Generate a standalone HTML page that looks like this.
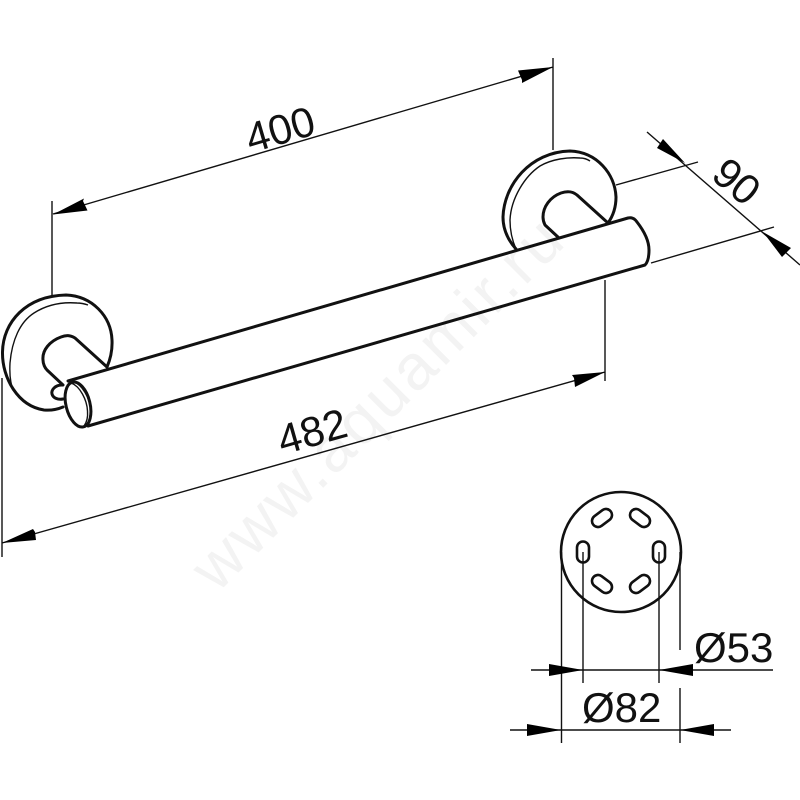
<!DOCTYPE html>
<html>
<head>
<meta charset="utf-8">
<style>
html,body{margin:0;padding:0;background:#fff}
svg{display:block}
text{font-family:"Liberation Sans",sans-serif;fill:#111}
.t{fill:none;stroke:#111;stroke-width:1.4}
.m{fill:none;stroke:#111;stroke-width:3;stroke-linecap:round;stroke-linejoin:round}
.h{fill:#000;stroke:none}
</style>
</head>
<body>
<svg width="800" height="800" viewBox="0 0 800 800" xmlns="http://www.w3.org/2000/svg">
<text x="0" y="0" font-size="64" text-anchor="middle" transform="translate(393,418) rotate(-45)" style="fill:#f3f3f3;letter-spacing:3px">www.aquamir.ru</text>

<!-- 400 dimension -->
<path class="t" d="M52 201V296M553 58V150M53 214L553 67"/>
<polygon class="h" points="53,214.500 84,198.500 83,201 87.500,210.500"/>
<polygon class="h" points="553,67 522,83 522,80 518,70.500"/>
<text font-size="42" text-anchor="middle" transform="translate(280,129) rotate(-16.300)" y="15">400</text>

<!-- 482 dimension -->
<path class="t" d="M2 378V557M605 280V381M2 543L605 372"/>
<polygon class="h" points="2,543 33,529 35,532 36,540"/>
<polygon class="h" points="605,372 572,375 574,378 575,387"/>
<text font-size="42" text-anchor="middle" transform="translate(312,431) rotate(-15.800)" y="15">482</text>

<!-- 90 dimension -->
<path class="t" d="M647 132L800 265M616 185L698 162M651 263L774 227"/>
<polygon class="h" points="685,163 657,148 663,139"/>
<polygon class="h" points="763,232 782,257 791,248"/>
<text font-size="42" text-anchor="middle" transform="translate(737,181) rotate(40)" y="15">90</text>

<!-- left rosette -->
<path class="m" d="M63 407C56 410 50 410.500 44 410C18 406 2 378 2.500 352C3 322 26 296 66 295C92 296 111 316 112 340C112.500 350 110 360 107 367"/>
<path class="t" d="M13 390C10 382 9.500 372 10 363C12 340 20 322 34 313C48 304 64 302 77 303C81 303 85 304 88 305"/>
<path class="m" d="M107 367L75 338C70 335 66 335 61 337C50 341 42 350 43 360C43 364 45 368 47 370L63 385"/>
<path class="m" d="M62 385C55 385 51 390 52 394C53 398 58 400 63 399"/>

<!-- bar -->
<path class="m" d="M68 381L628 218C632 217 635 219 637 222C644 231 649 240 649 250C649 256 648 262 645 265L88 426"/>
<ellipse class="m" cx="78" cy="404.500" rx="12" ry="23" transform="rotate(-14 78 404.500)"/>
<path class="t" d="M73 382C82 384 90 398 90.500 410C91 416 90 421 87 425"/>
<path class="t" d="M71 383C80 386 87 400 87.500 411C88 417 87 422 84 426"/>

<!-- right rosette -->
<path class="m" d="M516 249C508 240 503 229 503 217C504 185 530 152 570 151C597 152 615 174 616 197C616 207 613 216 608 223"/>
<path class="t" d="M516 249C512 240 510 230 510 220C511 198 525 176 540 166C552 159 568 157 580 158C584 158 587 159 590 161"/>
<path class="m" d="M608 223L577 195C572 191 567 191 561 193C550 197 543 207 543 217C543 220 544 223 545 225L559 238"/>

<!-- mounting plate -->
<circle cx="621" cy="552" r="60" fill="none" stroke="#111" stroke-width="2.600"/>
<g fill="none" stroke="#111" stroke-width="2.600">
<rect x="577" y="541.500" width="12" height="21" rx="6"/>
<rect x="653" y="541.500" width="12" height="21" rx="6"/>
<rect x="591" y="512" width="22" height="12" rx="6" transform="rotate(-37 602 518)"/>
<rect x="629" y="512" width="22" height="12" rx="6" transform="rotate(37 640 518)"/>
<rect x="591" y="578" width="22" height="12" rx="6" transform="rotate(37 602 584)"/>
<rect x="629" y="578" width="22" height="12" rx="6" transform="rotate(-37 640 584)"/>
</g>
<path class="t" d="M561.500 552V743M583 552V683M659 552V683M680 552V650M680 688V743M531 670H773M510 730H731"/>
<polygon class="h" points="549,664 583,670 549,676"/>
<polygon class="h" points="659,670 693,664 693,676"/>
<polygon class="h" points="527,724 561,730 527,736"/>
<polygon class="h" points="680,730 714,724 714,736"/>
<text x="694" y="662" font-size="42">Ø53</text>
<text x="582" y="722" font-size="42">Ø82</text>
</svg>
</body>
</html>
